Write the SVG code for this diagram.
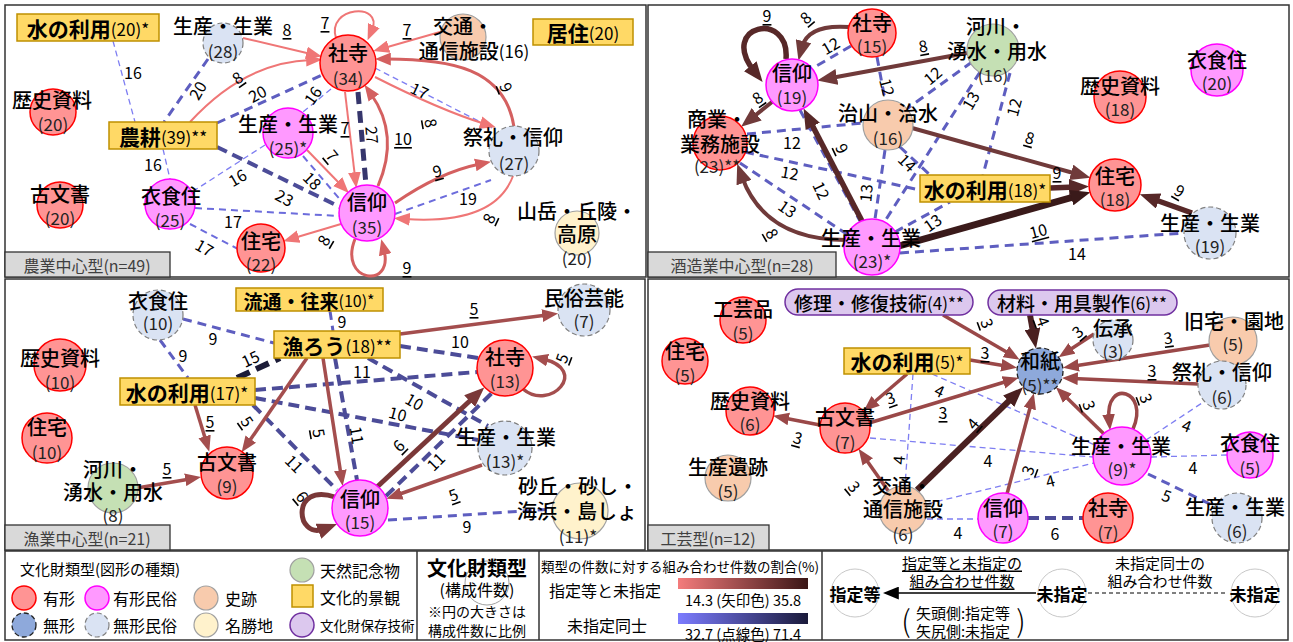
<svg xmlns="http://www.w3.org/2000/svg" width="1293" height="642" viewBox="0 0 1293 642">
<style>
text{font-family:"Noto Sans CJK JP","Noto Sans",sans-serif;fill:#000}
.nm{font-size:20px;font-weight:500;text-anchor:middle;dominant-baseline:central}
.ct{font-size:17px;text-anchor:middle;dominant-baseline:central;fill:#222}
.bx{font-size:21px;font-weight:bold;text-anchor:middle;dominant-baseline:central}
.c{font-size:17px;font-weight:normal}
.el{font-size:16px;text-anchor:middle;dominant-baseline:central}
.u{text-decoration:underline}
.pl{font-size:16px;text-anchor:middle;dominant-baseline:central;fill:#404040}
.lg{font-size:16px;dominant-baseline:central}
.lt{font-size:15px;text-anchor:middle;dominant-baseline:central}
.yk{fill:#FF9494;stroke:#FF0000;stroke-width:1.5}
.ym{fill:#FF99FF;stroke:#FF00FF;stroke-width:1.5}
.sh{fill:#F8CBAD;stroke:#A0A0A0;stroke-width:1.2}
.mk{fill:#8EA9DB;stroke:#222;stroke-width:1.3;stroke-dasharray:5 3}
.mm{fill:#DAE3F3;stroke:#808080;stroke-width:1.2;stroke-dasharray:5 3}
.me{fill:#FFF2CC;stroke:#A0A0A0;stroke-width:1.2}
.tn{fill:#C5E0B4;stroke:#A0A0A0;stroke-width:1.2}
.kb{fill:#FFD966;stroke:#BF9000;stroke-width:1.5}
.hz{fill:#DCC8EE;stroke:#7030A0;stroke-width:1.5}
.fr{fill:#fff;stroke:#333;stroke-width:1.5}
.tb{fill:#D9D9D9;stroke:#333;stroke-width:1.3}
.d1{fill:none;stroke:#7E7EF2;stroke-width:1.3;stroke-dasharray:6 4}
.d2{fill:none;stroke:#6C6CDC;stroke-width:2;stroke-dasharray:7 5}
.d3{fill:none;stroke:#5E5EC0;stroke-width:3;stroke-dasharray:9 6}
.d4{fill:none;stroke:#4C4C98;stroke-width:4;stroke-dasharray:11 6}
.d5{fill:none;stroke:#36366C;stroke-width:5;stroke-dasharray:12 7}
.d6{fill:none;stroke:#1C1C38;stroke-width:6;stroke-dasharray:14 7}
.a1{fill:none;stroke:#EF7676;stroke-width:2;marker-end:url(#ma1)}
.a2{fill:none;stroke:#D46060;stroke-width:3;marker-end:url(#ma2)}
.b1{fill:none;stroke:#703A3A;stroke-width:4;marker-end:url(#mb1)}
.b2{fill:none;stroke:#572828;stroke-width:5.5;marker-end:url(#mb2)}
.b3{fill:none;stroke:#3A1A1A;stroke-width:7;marker-end:url(#mb3)}
.c1{fill:none;stroke:#A44E4E;stroke-width:3.5;marker-end:url(#mc1)}
.c2{fill:none;stroke:#7A3838;stroke-width:5;marker-end:url(#mc2)}
.g1{fill:none;stroke:#9A4848;stroke-width:3.5;marker-end:url(#mg1)}
.g2{fill:none;stroke:#4A2020;stroke-width:6;marker-end:url(#mg2)}
</style>
<defs>
<marker id="ma1" viewBox="0 0 10 8" refX="3" refY="4" markerWidth="16" markerHeight="13" markerUnits="userSpaceOnUse" orient="auto"><path d="M0,0L10,4L0,8z" fill="#EF7676"/></marker>
<marker id="ma2" viewBox="0 0 10 8" refX="3" refY="4" markerWidth="16" markerHeight="13" markerUnits="userSpaceOnUse" orient="auto"><path d="M0,0L10,4L0,8z" fill="#D46060"/></marker>
<marker id="mb1" viewBox="0 0 10 8" refX="3" refY="4" markerWidth="20" markerHeight="16" markerUnits="userSpaceOnUse" orient="auto"><path d="M0,0L10,4L0,8z" fill="#703A3A"/></marker>
<marker id="mb2" viewBox="0 0 10 8" refX="3" refY="4" markerWidth="20" markerHeight="16" markerUnits="userSpaceOnUse" orient="auto"><path d="M0,0L10,4L0,8z" fill="#572828"/></marker>
<marker id="mb3" viewBox="0 0 10 8" refX="3" refY="4" markerWidth="20" markerHeight="16" markerUnits="userSpaceOnUse" orient="auto"><path d="M0,0L10,4L0,8z" fill="#3A1A1A"/></marker>
<marker id="mc1" viewBox="0 0 10 8" refX="3" refY="4" markerWidth="16" markerHeight="13" markerUnits="userSpaceOnUse" orient="auto"><path d="M0,0L10,4L0,8z" fill="#A44E4E"/></marker>
<marker id="mc2" viewBox="0 0 10 8" refX="3" refY="4" markerWidth="20" markerHeight="16" markerUnits="userSpaceOnUse" orient="auto"><path d="M0,0L10,4L0,8z" fill="#7A3838"/></marker>
<marker id="mg1" viewBox="0 0 10 8" refX="3" refY="4" markerWidth="16" markerHeight="13" markerUnits="userSpaceOnUse" orient="auto"><path d="M0,0L10,4L0,8z" fill="#9A4848"/></marker>
<marker id="mg2" viewBox="0 0 10 8" refX="3" refY="4" markerWidth="20" markerHeight="16" markerUnits="userSpaceOnUse" orient="auto"><path d="M0,0L10,4L0,8z" fill="#4A2020"/></marker>
<marker id="mk" viewBox="0 0 10 8" refX="3" refY="4" markerWidth="16" markerHeight="13" markerUnits="userSpaceOnUse" orient="auto"><path d="M0,0L10,4L0,8z" fill="#000"/></marker>
<linearGradient id="gr"><stop offset="0" stop-color="#F47C7C"/><stop offset="1" stop-color="#3A1616"/></linearGradient>
<linearGradient id="gb"><stop offset="0" stop-color="#7C7CFF"/><stop offset="1" stop-color="#1A1A3A"/></linearGradient>
</defs>
<rect width="1293" height="642" fill="#fff"/>
<g id="panels">
<rect class="fr" x="5" y="5" width="641" height="272"/>
<rect class="fr" x="648" y="5" width="641" height="272"/>
<rect class="fr" x="5" y="279" width="640" height="271"/>
<rect class="fr" x="648" y="279" width="641" height="271"/>
</g>

<g id="connectors">
<!-- Q1 dashed -->
<path class="d1" d="M113,41L135,122"/><text class="el" x="133" y="72">16</text>
<path class="d3" d="M208,59L164,122"/><text class="el" x="197" y="90" transform="rotate(-60 197 90)">20</text>
<path class="d3" d="M217,123L322,75"/><text class="el" x="257" y="93" transform="rotate(-28 257 93)">20</text>
<path class="d1" d="M331,89L303,112"/><text class="el" x="312" y="95" transform="rotate(-55 312 95)">16</text>
<path class="d2" d="M303,156L343,203"/><text class="el" x="313" y="180" transform="rotate(45 313 180)">18</text>
<path class="d4" d="M217,147L340,207"/><text class="el" x="285" y="197" transform="rotate(28 285 197)">23</text>
<path class="d2" d="M195,208L339,216"/><text class="el" x="233" y="221">17</text>
<path class="d2" d="M190,224L238,249"/><text class="el" x="205" y="247" transform="rotate(30 205 247)">17</text>
<path class="d1" d="M163,149L170,179"/><text class="el" x="153" y="164">16</text>
<path class="d1" d="M265,145L195,190"/><text class="el" x="237" y="177" transform="rotate(-30 237 177)">16</text>
<path class="d5" d="M358,92L366,185"/><text class="el" x="373" y="135" transform="rotate(85 373 135)">27</text>
<path class="d1" d="M375,68L492,128"/><text class="el" x="420" y="90" transform="rotate(25 420 90)">17</text>
<path class="d2" d="M395,214L491,180"/><text class="el" x="468" y="198">19</text>
<!-- Q1 arrows -->
<path class="a1" d="M243,38L311,54"/><text class="el u" x="287" y="29">8</text>
<path class="a1" d="M336,38C326,6 384,2 372,30"/><text class="el u" x="325" y="22">7</text>
<path class="a1" d="M440,32L384,48"/><text class="el u" x="407" y="29">7</text>
<path class="a1" d="M190,122Q245,62 311,60"/><text class="el u" x="237" y="77" transform="rotate(-35 237 77)">8</text>
<path class="a1" d="M345,92L355,177"/><text class="el u" x="345" y="127">7</text>
<path class="a2" d="M378,186Q400,135 371,94"/><text class="el u" x="403" y="138">10</text>
<path class="a1" d="M307,150L341,185"/><text class="el u" x="333" y="155" transform="rotate(50 333 155)">7</text>
<path class="a2" d="M514,127C505,68 450,59 386,59"/><text class="el u" x="507" y="87" transform="rotate(70 507 87)">9</text>
<path class="a1" d="M375,77Q440,110 485,124"/><text class="el u" x="432" y="123" transform="rotate(80 432 123)">8</text>
<path class="a2" d="M395,203Q440,172 480,164"/><text class="el u" x="437" y="170" transform="rotate(-15 437 170)">9</text>
<path class="a1" d="M513,176Q495,225 405,219"/><text class="el u" x="488" y="218" transform="rotate(-65 488 218)">8</text>
<path class="a1" d="M341,224L294,238"/><text class="el u" x="323" y="240" transform="rotate(-60 323 240)">8</text>
<path class="a2" d="M355,239C338,282 394,290 384,250"/><text class="el u" x="407" y="267">9</text>

<!-- Q2 dashed -->
<path class="d3" d="M851,46L813,68"/><text class="el" x="830" y="45" transform="rotate(-30 830 45)">12</text>
<path class="d3" d="M877,57L885,100"/><text class="el" x="888" y="87" transform="rotate(75 888 87)">12</text>
<path class="d3" d="M972,62L908,108"/><text class="el" x="932" y="75" transform="rotate(-40 932 75)">12</text>
<path class="d3" d="M980,72L885,221"/><text class="el" x="970" y="100" transform="rotate(-60 970 100)">13</text>
<path class="d3" d="M1010,73L983,175"/><text class="el" x="1013" y="107" transform="rotate(-75 1013 107)">12</text>
<path class="d3" d="M747,134L863,123"/><text class="el" x="792" y="142">12</text>
<path class="d3" d="M745,152L920,190"/><text class="el" x="790" y="172" transform="rotate(10 790 172)">12</text>
<path class="d3" d="M740,163L848,235"/><text class="el" x="788" y="208" transform="rotate(35 788 208)">13</text>
<path class="d3" d="M800,110L860,221"/><text class="el" x="822" y="190" transform="rotate(65 822 190)">12</text>
<path class="d3" d="M885,150L875,219"/><text class="el" x="865" y="193" transform="rotate(-85 865 193)">13</text>
<path class="d3" d="M900,147L930,175"/><text class="el" x="908" y="162" transform="rotate(45 908 162)">14</text>
<path class="d3" d="M895,232L950,202"/><text class="el" x="932" y="222" transform="rotate(-35 932 222)">13</text>
<path class="d3" d="M900,253L1184,233"/><text class="el" x="1077" y="253">14</text>
<!-- Q2 arrows -->
<path class="b2" d="M786,59C790,10 718,25 754,71"/><text class="el u" x="767" y="15">9</text>
<path class="b1" d="M849,27Q808,24 802,47"/><text class="el u" x="805" y="17" transform="rotate(-40 805 17)">8</text>
<path class="b1" d="M967,53L831,78"/><text class="el u" x="923" y="45" transform="rotate(-10 923 45)">8</text>
<path class="b1" d="M772,102L752,118"/><text class="el u" x="757" y="97" transform="rotate(-35 757 97)">8</text>
<path class="b2" d="M862,221L810,121"/><text class="el u" x="843" y="148" transform="rotate(65 843 148)">9</text>
<path class="b1" d="M846,240Q765,240 742,177"/><text class="el u" x="773" y="233" transform="rotate(60 773 233)">8</text>
<path class="b1" d="M912,128L1077,174"/><text class="el u" x="1030" y="137" transform="rotate(15 1030 137)">8</text>
<path class="b2" d="M1050,188L1075,187"/><text class="el u" x="1057" y="172">9</text>
<path class="b3" d="M899,246L1077,196"/><text class="el u" x="1038" y="230" transform="rotate(-15 1038 230)">10</text>
<path class="b2" d="M1192,213L1153,199"/><text class="el u" x="1180" y="190" transform="rotate(30 1180 190)">9</text>

<!-- Q3 dashed -->
<path class="d3" d="M183,319L274,343"/><text class="el" x="213" y="338">9</text>
<path class="d3" d="M160,340L188,378"/><text class="el" x="183" y="355">9</text>
<path class="d3" d="M330,311L333,331"/><text class="el" x="342" y="321">9</text>
<path class="d4" d="M335,358L357,480"/><text class="el" x="358" y="435" transform="rotate(80 358 435)">11</text>
<path class="d4" d="M400,346L478,358"/><text class="el" x="460" y="341">10</text>
<path class="d6" d="M237,378L280,358"/><text class="el" x="250" y="358" transform="rotate(-25 250 358)">15</text>
<path class="d4" d="M255,390L477,372"/><text class="el" x="362" y="371">11</text>
<path class="d4" d="M255,398L478,440"/><text class="el" x="398" y="413" transform="rotate(15 398 413)">10</text>
<path class="d4" d="M368,358L488,426"/><text class="el" x="415" y="401" transform="rotate(30 415 401)">10</text>
<path class="d4" d="M253,405L337,490"/><text class="el" x="295" y="463" transform="rotate(45 295 463)">11</text>
<path class="d4" d="M386,496L492,393"/><text class="el" x="435" y="461" transform="rotate(-45 435 461)">11</text>
<path class="d3" d="M388,520L553,509"/><text class="el" x="467" y="526">9</text>
<!-- Q3 arrows -->
<path class="c1" d="M400,334L547,315"/><text class="el u" x="474" y="308">5</text>
<path class="c1" d="M195,405L206,441"/><text class="el u" x="210" y="421">5</text>
<path class="c1" d="M307,358L248,443"/><text class="el u" x="248" y="421" transform="rotate(55 248 421)">5</text>
<path class="c1" d="M323,358L341,475"/><text class="el u" x="320" y="433" transform="rotate(80 320 433)">5</text>
<path class="c1" d="M137,488L190,479"/><text class="el u" x="167" y="468">5</text>
<path class="c2" d="M335,497C290,482 296,540 324,529"/><text class="el u" x="303" y="496" transform="rotate(50 303 496)">6</text>
<path class="c2" d="M377,487L474,397"/><text class="el u" x="398" y="445" transform="rotate(-45 398 445)">6</text>
<path class="c1" d="M482,465L397,495"/><text class="el u" x="453" y="494" transform="rotate(-20 453 494)">5</text>
<path class="c1" d="M523,389C550,412 590,370 543,359"/><text class="el u" x="561" y="358" transform="rotate(-70 561 358)">5</text>

<!-- Q4 dashed -->
<path class="d1" d="M932,374L1095,445"/><text class="el" x="940" y="390" transform="rotate(25 940 390)">4</text>
<path class="d1" d="M913,374L905,486"/><text class="el" x="898" y="460" transform="rotate(-85 898 460)">4</text>
<path class="d1" d="M870,438L1093,457"/><text class="el" x="988" y="460">4</text>
<path class="d1" d="M927,504L1094,463"/><text class="el" x="1050" y="480" transform="rotate(-15 1050 480)">4</text>
<path class="d1" d="M927,519L978,519"/><text class="el" x="958" y="532">4</text>
<path class="d4" d="M1028,518L1083,518"/><text class="el" x="1055" y="533">6</text>
<path class="d1" d="M1146,440L1205,401"/><text class="el" x="1187" y="425" transform="rotate(20 1187 425)">4</text>
<path class="d1" d="M1151,457L1227,455"/><text class="el" x="1193" y="467">4</text>
<path class="d3" d="M1148,474L1214,506"/><text class="el" x="1167" y="495" transform="rotate(20 1167 495)">5</text>
<!-- Q4 arrows -->
<path class="g1" d="M943,315L1010,354"/><text class="el u" x="988" y="323" transform="rotate(70 988 323)">3</text>
<path class="g2" d="M1030,315L1033.5,334.6"/><text class="el u" x="1044" y="321" transform="rotate(70 1044 321)">4</text>
<path class="g1" d="M1094,334L1068,351"/><text class="el u" x="1077" y="331" transform="rotate(-40 1077 331)">3</text>
<path class="g1" d="M1210,345L1074,366"/><text class="el u" x="1168" y="337" transform="rotate(-8 1168 337)">3</text>
<path class="g1" d="M1198,384L1073,378.5"/><text class="el u" x="1152" y="370">3</text>
<path class="g1" d="M970,360L1006,366"/><text class="el u" x="985" y="352">3</text>
<path class="g1" d="M869,423L1008,381"/><text class="el u" x="943" y="412">3</text>
<path class="g1" d="M907,374L872,404"/><text class="el u" x="890" y="397" transform="rotate(-20 890 397)">3</text>
<path class="g2" d="M917,490L1013,397"/><text class="el u" x="972" y="423" transform="rotate(-50 972 423)">4</text>
<path class="g1" d="M889,492L865,458"/><text class="el u" x="855" y="486" transform="rotate(50 855 486)">3</text>
<path class="g1" d="M820,425L784,418"/><text class="el u" x="798" y="437" transform="rotate(15 798 437)">3</text>
<path class="g1" d="M1007,494L1031,404"/><text class="el u" x="1027" y="470" transform="rotate(-70 1027 470)">3</text>
<path class="g1" d="M1104,434L1064,395"/><text class="el u" x="1090" y="405" transform="rotate(70 1090 405)">3</text>
<path class="g1" d="M1133,429C1150,390 1105,378 1109,419"/><text class="el u" x="1147" y="398" transform="rotate(70 1147 398)">3</text>
</g>

<!-- Q1 nodes -->
<g id="q1-mizu"><rect class="kb" x="17" y="14" width="142" height="27"/><text class="bx" x="88" y="28">水の利用<tspan class="c">(20)*</tspan></text></g>
<g id="q1-seisan28"><circle class="mm" cx="223" cy="43" r="20"/><text class="nm" x="223" y="25">生産・生業</text><text class="ct" x="223" y="50">(28)</text></g>
<g id="q1-rekishi"><circle class="yk" cx="53" cy="112" r="23"/><text class="nm" x="52" y="99">歴史資料</text><text class="ct" x="53" y="123">(20)</text></g>
<g id="q1-noko"><rect class="kb" x="109" y="122" width="108" height="27"/><text class="bx" x="163" y="136">農耕<tspan class="c">(39)**</tspan></text></g>
<g id="q1-seisan25"><circle class="ym" cx="288" cy="133" r="25"/><text class="nm" x="288" y="123">生産・生業</text><text class="ct" x="288" y="147">(25)*</text></g>
<g id="q1-komonjo"><circle class="yk" cx="60" cy="205" r="23"/><text class="nm" x="60" y="193">古文書</text><text class="ct" x="60" y="217">(20)</text></g>
<g id="q1-ishokuju"><circle class="ym" cx="170" cy="204" r="25"/><text class="nm" x="171" y="195">衣食住</text><text class="ct" x="170" y="219">(25)</text></g>
<g id="q1-jutaku"><circle class="yk" cx="261" cy="248" r="24"/><text class="nm" x="261" y="240">住宅</text><text class="ct" x="261" y="263">(22)</text></g>
<g id="q1-shaji"><circle class="yk" cx="348" cy="63" r="28"/><text class="nm" x="348" y="52" font-weight="bold">社寺</text><text class="ct" x="348" y="77">(34)</text></g>
<g id="q1-shinko"><circle class="ym" cx="367" cy="213" r="28"/><text class="nm" x="367" y="201" font-weight="bold">信仰</text><text class="ct" x="367" y="226">(35)</text></g>
<g id="q1-kotsu"><circle class="sh" cx="463" cy="37" r="23"/><text class="nm" x="463" y="25">交通・</text><text class="nm" x="474" y="50">通信施設<tspan class="c" font-weight="normal">(16)</tspan></text></g>
<g id="q1-kyoju"><rect class="kb" x="533" y="19" width="100" height="26"/><text class="bx" x="583" y="32">居住<tspan class="c">(20)</tspan></text></g>
<g id="q1-sairei"><circle class="mm" cx="514" cy="151" r="25"/><text class="nm" x="513" y="136">祭礼・信仰</text><text class="ct" x="514" y="162">(27)</text></g>
<g id="q1-sangaku"><circle class="me" cx="577" cy="233" r="22"/><text class="nm" x="577" y="210">山岳・丘陵・</text><text class="nm" x="577" y="233">高原</text><text class="ct" x="577" y="257">(20)</text></g>
<g id="q1-title"><rect class="tb" x="5" y="252" width="165" height="25"/><text class="pl" x="87" y="265">農業中心型(n=49)</text></g>

<!-- Q2 nodes -->
<g id="q2-shaji"><circle class="yk" cx="872" cy="33" r="24"/><text class="nm" x="872" y="22">社寺</text><text class="ct" x="872" y="45">(15)</text></g>
<g id="q2-kasen"><circle class="tn" cx="993" cy="50" r="26"/><text class="nm" x="996" y="25">河川・</text><text class="nm" x="997" y="50">湧水・用水</text><text class="ct" x="993" y="74">(16)</text></g>
<g id="q2-shinko"><circle class="ym" cx="792" cy="85" r="26"/><text class="nm" x="792" y="72">信仰</text><text class="ct" x="792" y="96">(19)</text></g>
<g id="q2-ishokuju"><circle class="ym" cx="1217" cy="70" r="26"/><text class="nm" x="1217" y="59">衣食住</text><text class="ct" x="1217" y="82">(20)</text></g>
<g id="q2-rekishi"><circle class="yk" cx="1120" cy="97" r="26"/><text class="nm" x="1120" y="85">歴史資料</text><text class="ct" x="1120" y="108">(18)</text></g>
<g id="q2-shogyo"><circle class="yk" cx="720" cy="143" r="27"/><text class="nm" x="717" y="118">商業・</text><text class="nm" x="720" y="143">業務施設</text><text class="ct" x="717" y="165">(23)**</text></g>
<g id="q2-chisan"><circle class="sh" cx="888" cy="125" r="25"/><text class="nm" x="888" y="112">治山・治水</text><text class="ct" x="888" y="137">(16)</text></g>
<g id="q2-mizu"><rect class="kb" x="920" y="175" width="130" height="27"/><text class="bx" x="985" y="189">水の利用<tspan class="c">(18)*</tspan></text></g>
<g id="q2-jutaku"><circle class="yk" cx="1115" cy="185" r="26"/><text class="nm" x="1115" y="175">住宅</text><text class="ct" x="1115" y="198">(18)</text></g>
<g id="q2-seisan23"><circle class="ym" cx="872" cy="247" r="28"/><text class="nm" x="871" y="237">生産・生業</text><text class="ct" x="872" y="260">(23)*</text></g>
<g id="q2-seisan19"><circle class="mm" cx="1210" cy="233" r="26"/><text class="nm" x="1210" y="222">生産・生業</text><text class="ct" x="1210" y="245">(19)</text></g>
<g id="q2-title"><rect class="tb" x="648" y="252" width="188" height="25"/><text class="pl" x="742" y="265">酒造業中心型(n=28)</text></g>

<!-- Q3 nodes -->
<g id="q3-ishokuju"><circle class="mm" cx="158" cy="315" r="25"/><text class="nm" x="158" y="300">衣食住</text><text class="ct" x="158" y="322">(10)</text></g>
<g id="q3-ryutsu"><rect class="kb" x="236" y="288" width="147" height="23"/><text class="bx" x="309" y="300" style="font-size:19px">流通・往来<tspan class="c" style="font-size:16px">(10)*</tspan></text></g>
<g id="q3-minzoku"><circle class="mm" cx="584" cy="310" r="26"/><text class="nm" x="584" y="297">民俗芸能</text><text class="ct" x="584" y="320">(7)</text></g>
<g id="q3-rekishi"><circle class="yk" cx="60" cy="365" r="26"/><text class="nm" x="60" y="357">歴史資料</text><text class="ct" x="60" y="381">(10)</text></g>
<g id="q3-gyoro"><rect class="kb" x="274" y="331" width="126" height="27"/><text class="bx" x="337" y="345">漁ろう<tspan class="c">(18)**</tspan></text></g>
<g id="q3-shaji"><circle class="yk" cx="505" cy="368" r="28"/><text class="nm" x="505" y="356">社寺</text><text class="ct" x="505" y="380">(13)</text></g>
<g id="q3-mizu"><rect class="kb" x="120" y="378" width="135" height="27"/><text class="bx" x="187" y="392">水の利用<tspan class="c">(17)*</tspan></text></g>
<g id="q3-jutaku"><circle class="yk" cx="47" cy="438" r="25"/><text class="nm" x="47" y="426">住宅</text><text class="ct" x="47" y="451">(10)</text></g>
<g id="q3-seisan"><circle class="mm" cx="505" cy="448" r="27"/><text class="nm" x="506" y="436">生産・生業</text><text class="ct" x="505" y="460">(13)*</text></g>
<g id="q3-komonjo"><circle class="yk" cx="227" cy="473" r="26"/><text class="nm" x="227" y="461">古文書</text><text class="ct" x="227" y="485">(9)</text></g>
<g id="q3-kasen"><circle class="tn" cx="113" cy="488" r="25"/><text class="nm" x="113" y="468">河川・</text><text class="nm" x="113" y="491">湧水・用水</text><text class="ct" x="113" y="514">(8)</text></g>
<g id="q3-shinko"><circle class="ym" cx="360" cy="508" r="28"/><text class="nm" x="360" y="498">信仰</text><text class="ct" x="360" y="521">(15)</text></g>
<g id="q3-sakyu"><circle class="me" cx="580" cy="511" r="28"/><text class="nm" x="578" y="485">砂丘・砂し・</text><text class="nm" x="577" y="510">海浜・島しょ</text><text class="ct" x="578" y="535">(11)*</text></g>
<g id="q3-title"><rect class="tb" x="5" y="525" width="165" height="25"/><text class="pl" x="87" y="538">漁業中心型(n=21)</text></g>

<!-- Q4 nodes -->
<g id="q4-shuri"><rect class="hz" x="785" y="289" width="188" height="26" rx="13"/><text class="bx" x="879" y="302" style="font-size:19px;font-weight:500">修理・修復技術<tspan class="c">(4)**</tspan></text></g>
<g id="q4-zairyo"><rect class="hz" x="988" y="290" width="189" height="25" rx="12.5"/><text class="bx" x="1082" y="302" style="font-size:19px;font-weight:500">材料・用具製作<tspan class="c">(6)**</tspan></text></g>
<g id="q4-kogeihin"><circle class="yk" cx="743" cy="320" r="23"/><text class="nm" x="743" y="308">工芸品</text><text class="ct" x="743" y="332">(5)</text></g>
<g id="q4-jutaku"><circle class="yk" cx="685" cy="361" r="23"/><text class="nm" x="685" y="350">住宅</text><text class="ct" x="685" y="374">(5)</text></g>
<g id="q4-kyutaku"><circle class="sh" cx="1233" cy="341" r="24"/><text class="nm" x="1234" y="320">旧宅・園地</text><text class="ct" x="1233" y="343">(5)</text></g>
<g id="q4-densho"><circle class="mm" cx="1113" cy="340" r="20"/><text class="nm" x="1113" y="327">伝承</text><text class="ct" x="1113" y="350">(3)</text></g>
<g id="q4-washi"><circle class="mk" cx="1040" cy="371" r="23"/><text class="nm" x="1040" y="360">和紙</text><text class="ct" x="1040" y="384">(5)**</text></g>
<g id="q4-mizu"><rect class="kb" x="844" y="348" width="126" height="26"/><text class="bx" x="907" y="361">水の利用<tspan class="c">(5)*</tspan></text></g>
<g id="q4-rekishi"><circle class="yk" cx="750" cy="411" r="24"/><text class="nm" x="750" y="400">歴史資料</text><text class="ct" x="750" y="423">(6)</text></g>
<g id="q4-sairei"><circle class="mm" cx="1222" cy="385" r="24"/><text class="nm" x="1222" y="371">祭礼・信仰</text><text class="ct" x="1222" y="396">(6)</text></g>
<g id="q4-komonjo"><circle class="yk" cx="845" cy="428" r="25"/><text class="nm" x="845" y="416">古文書</text><text class="ct" x="845" y="441">(7)</text></g>
<g id="q4-seisan9"><circle class="ym" cx="1122" cy="456" r="29"/><text class="nm" x="1121" y="445">生産・生業</text><text class="ct" x="1122" y="468">(9)*</text></g>
<g id="q4-ishokuju"><circle class="ym" cx="1250" cy="455" r="23"/><text class="nm" x="1250" y="442">衣食住</text><text class="ct" x="1250" y="467">(5)</text></g>
<g id="q4-iseki"><circle class="sh" cx="728" cy="478" r="23"/><text class="nm" x="728" y="466">生産遺跡</text><text class="ct" x="728" y="490">(5)</text></g>
<g id="q4-kotsu"><circle class="sh" cx="903" cy="510" r="24"/><text class="nm" x="902" y="485">交通・</text><text class="nm" x="903" y="508">通信施設</text><text class="ct" x="903" y="533">(6)</text></g>
<g id="q4-shinko"><circle class="ym" cx="1003" cy="518" r="25"/><text class="nm" x="1003" y="507">信仰</text><text class="ct" x="1003" y="530">(7)</text></g>
<g id="q4-shaji"><circle class="yk" cx="1108" cy="518" r="25"/><text class="nm" x="1108" y="507">社寺</text><text class="ct" x="1108" y="531">(7)</text></g>
<g id="q4-seisan6"><circle class="mm" cx="1237" cy="518" r="25"/><text class="nm" x="1235" y="506">生産・生業</text><text class="ct" x="1237" y="530">(6)</text></g>
<g id="q4-title"><rect class="tb" x="648" y="525" width="121" height="25"/><text class="pl" x="708" y="538">工芸型(n=12)</text></g>

<!-- Legend -->
<g id="legend">
<rect class="fr" x="5" y="551" width="1283" height="89"/>
<line x1="417" y1="551" x2="417" y2="640" stroke="#333" stroke-width="1.5"/>
<line x1="539" y1="551" x2="539" y2="640" stroke="#333" stroke-width="1.5"/>
<line x1="822" y1="551" x2="822" y2="640" stroke="#333" stroke-width="1.5"/>
<text class="lg" x="20" y="568" style="font-size:15px">文化財類型(図形の種類)</text>
<circle class="yk" cx="24" cy="598" r="12"/><text class="lg" x="43" y="598">有形</text>
<circle class="ym" cx="97" cy="598" r="12"/><text class="lg" x="113" y="598">有形民俗</text>
<circle class="sh" cx="206" cy="598" r="12"/><text class="lg" x="225" y="598">史跡</text>
<circle class="mk" cx="24" cy="625" r="12"/><text class="lg" x="43" y="625">無形</text>
<circle class="mm" cx="97" cy="625" r="12"/><text class="lg" x="113" y="625">無形民俗</text>
<circle class="me" cx="206" cy="625" r="12"/><text class="lg" x="225" y="625">名勝地</text>
<circle class="tn" cx="302" cy="570" r="12"/><text class="lg" x="320" y="570">天然記念物</text>
<rect class="kb" x="292" y="585" width="21" height="22"/><text class="lg" x="320" y="597">文化的景観</text>
<circle class="hz" cx="302" cy="625" r="12"/><text class="lg" x="320" y="625" style="font-size:13.5px">文化財保存技術</text>
<circle cx="487" cy="583" r="22" fill="none" stroke="#A0A0A0" stroke-width="1"/>
<text class="lt" x="477" y="567" style="font-size:20px;font-weight:bold">文化財類型</text>
<text class="lt" x="477" y="589" style="font-size:16px">(構成件数)</text>
<text class="lt" x="477" y="611" style="font-size:14px">※円の大きさは</text>
<text class="lt" x="477" y="630" style="font-size:14px">構成件数に比例</text>
<text class="lt" x="680" y="566" style="font-size:13.5px">類型の件数に対する組み合わせ件数の割合(%)</text>
<text class="lg" x="549" y="590" style="font-size:16px">指定等と未指定</text>
<rect x="678" y="578" width="130" height="11" fill="url(#gr)"/>
<text class="lt" x="743" y="599" style="font-size:14.5px">14.3 (矢印色) 35.8</text>
<text class="lt" x="607" y="625" style="font-size:16px">未指定同士</text>
<rect x="678" y="613" width="130" height="11" fill="url(#gb)"/>
<text class="lt" x="743" y="633" style="font-size:14.5px">32.7 (点線色) 71.4</text>
<circle cx="855" cy="593" r="24" fill="none" stroke="#C8C8C8"/>
<circle cx="1062" cy="593" r="24" fill="none" stroke="#C8C8C8"/>
<circle cx="1255" cy="593" r="24" fill="none" stroke="#C8C8C8"/>
<path d="M1036,593L894,593" stroke="#000" stroke-width="1.5" fill="none" marker-end="url(#mk)"/>
<path d="M1088,593L1228,593" stroke="#000" stroke-width="1" stroke-dasharray="4 3" fill="none"/>
<text class="lt" x="855" y="593" style="font-size:17px;font-weight:bold">指定等</text>
<text class="lt" x="1062" y="593" style="font-size:17px;font-weight:bold">未指定</text>
<text class="lt" x="1255" y="593" style="font-size:17px;font-weight:bold">未指定</text>
<text class="lt u" x="962" y="562">指定等と未指定の</text>
<text class="lt u" x="962" y="580">組み合わせ件数</text>
<text class="lt" x="1160" y="562">未指定同士の</text>
<text class="lt" x="1160" y="580">組み合わせ件数</text>
<text class="lt" x="963" y="612">矢頭側:指定等</text>
<text class="lt" x="963" y="630">矢尻側:未指定</text>
<text class="lt" x="906" y="619" style="font-size:30px;font-weight:300">(</text>
<text class="lt" x="1021" y="619" style="font-size:30px;font-weight:300">)</text>
</g>
</svg>
